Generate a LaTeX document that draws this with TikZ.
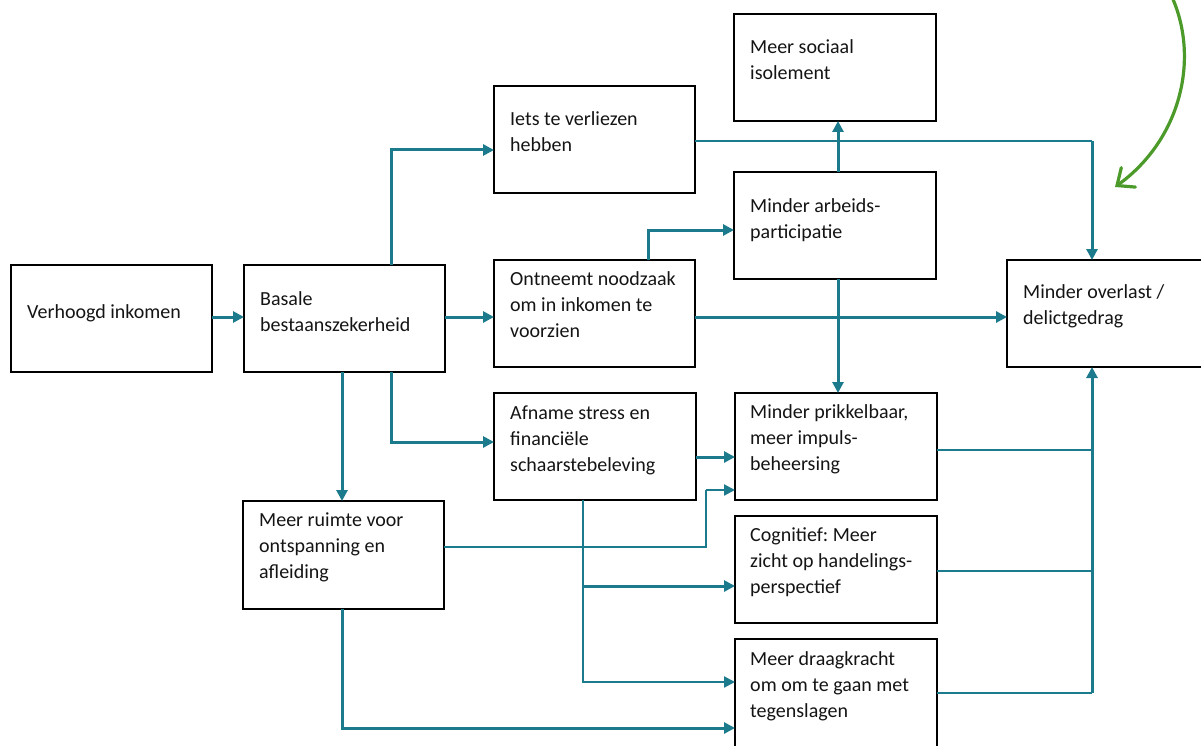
\documentclass[tikz,border=0pt]{standalone}
\usepackage{fontspec}
\setmainfont{Carlito}
\usetikzlibrary{arrows.meta,fit}
\definecolor{teal1}{HTML}{1B7B8C}
\definecolor{grn}{HTML}{4C9B2A}
\frenchspacing
\begin{document}
\begin{tikzpicture}[x=1pt,y=-1pt,
  box/.style={draw=black, line width=2.4pt, inner sep=0pt, outer sep=0pt, rectangle},
  txt/.style={anchor=north west, inner sep=0pt, align=left, font=\fontsize{20}{26}\selectfont\frenchspacing, text=black!92},
  thk/.style={draw=teal1, line width=3pt},
  thn/.style={draw=teal1, line width=2.2pt},
  arr/.style={thk, -{Triangle[length=11pt,width=11pt]}},
  tarr/.style={thn, -{Triangle[length=11pt,width=11pt]}}]
\useasboundingbox (0,0) rectangle (1201,746);
\clip (0,0) rectangle (1201,746);
% boxes
\node[box, fit={(11,265) (212,372)}] (V) {};
\node[box, fit={(244,265) (445,372)}] (B) {};
\node[box, fit={(494,86) (695,193)}] (I) {};
\node[box, fit={(494,260) (695,367)}] (O) {};
\node[box, fit={(734,14) (936,121)}] (S) {};
\node[box, fit={(734,172) (936,279)}] (A) {};
\node[box, fit={(1007,260) (1215,367)}] (X) {};
\node[box, fit={(735,393) (937,500)}] (P) {};
\node[box, fit={(735,516) (937,623)}] (C) {};
\node[box, fit={(735,639) (937,760)}] (D) {};
\node[box, fit={(494,393) (696,500)}] (F) {};
\node[box, fit={(243,501) (444,609)}] (R) {};
% texts
\node[txt] (Vt) at (27,299.8) {\strut Verhoogd inkomen};
\node[txt] (Bt) at (260,286.8) {\strut Basale\\bestaanszekerheid};
\node[txt] (It) at (510,106.8) {\strut Iets te verliezen\\hebben};
\node[txt] (Ot) at (510,266.8) {\strut Ontneemt noodzaak\\om in inkomen te\\voorzien};
\node[txt] (St) at (750,34.8) {\strut Meer sociaal\\isolement};
\node[txt] (At) at (750,193.8) {\strut Minder arbeids-\\participatie};
\node[txt] (Xt) at (1023,279.8) {\strut Minder overlast /\\delictgedrag};
\node[txt] (Pt) at (750,399.8) {\strut Minder prikkelbaar,\\meer impuls-\\beheersing};
\node[txt] (Ct) at (750,522.8) {\strut Cognitief: Meer\\zicht op handelings-\\perspectief};
\node[txt] (Dt) at (750,646.8) {\strut Meer draagkracht\\om om te gaan met\\tegenslagen};
\node[txt] (Ft) at (510,400.8) {\strut Afname stress en\\financiële\\schaarstebeleving};
\node[txt] (Rt) at (259,507.8) {\strut Meer ruimte voor\\ontspanning en\\afleiding};
% helper coordinates
\coordinate (k1) at (1092,141);
\coordinate (k2) at (706,490);
\coordinate (k3) at (583,586);
\coordinate (k4) at (1092,693);
\coordinate (k5) at (1092,450);
\coordinate (k6) at (1092,571);
% connectors
\draw[arr] (V.east |- 0,317) -- (B.west |- 0,317);
\draw[arr] (B.east |- 0,317) -- (O.west |- 0,317);
\draw[arr] (B.north -| 391,0) |- (I.west |- 0,150);
\draw[arr] (B.south -| 391,0) |- (F.west |- 0,442);
\draw[arr] (B.south -| 342,0) -- (R.north -| 342,0);
\draw[arr] (O.north -| 648,0) |- (A.west |- 0,230);
\draw[arr] (O.east |- 0,317) -- (X.west |- 0,317);
\draw[thn] (I.east |- 0,141) -- (k1);
\draw[arr] (k1) -- (X.north -| k1);
\draw[arr] (A.north -| 838,0) -- (S.south -| 838,0);
\draw[arr] (A.south -| 838,0) -- (P.north -| 838,0);
\draw[arr] (F.east |- 0,457) -- (P.west |- 0,457);
\draw[thn] (R.east |- 0,547) -| (k2);
\draw[tarr] (k2) -- (P.west |- k2);
\draw[tarr] (F.south -| 583,0) |- (D.west |- 0,682);
\draw[arr] (k3) -- (C.west |- k3);
\draw[arr] (R.south -| 342,0) |- (D.west |- 0,728);
\draw[thn] (P.east |- k5) -- (k5);
\draw[thn] (C.east |- k6) -- (k6);
\draw[thn] (D.east |- k4) -- (k4);
\draw[arr] (k4) -- (X.south -| k4);
% green arrow
\coordinate (g1) at (1172,-3);
\coordinate (g2) at (1115,187);
\draw[grn, line width=3.2pt, line cap=round, -{Straight Barb[length=14pt,width=24pt,line cap=round]}] (g1) .. controls (1200,60) and (1180,140) .. (g2);
\end{tikzpicture}
\end{document}
